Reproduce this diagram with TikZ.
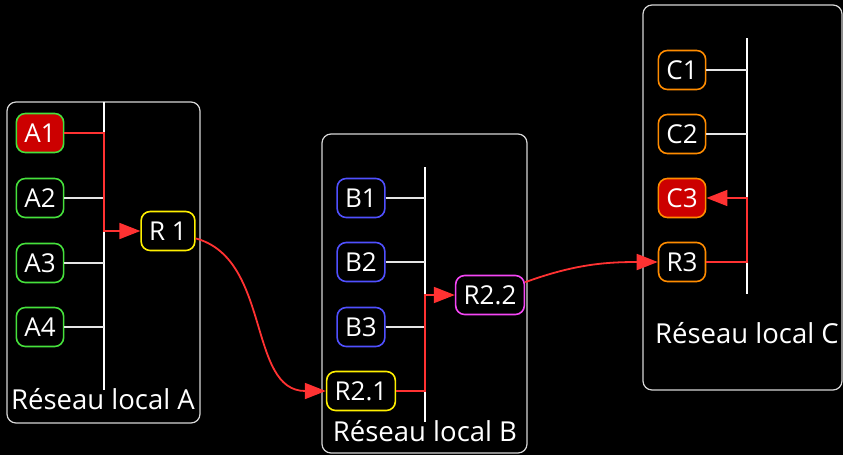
\documentclass[tikz,border=0pt]{standalone}
\usepackage{fontspec}
\setmainfont{Open Sans}
\usetikzlibrary{positioning}
\usetikzlibrary{arrows.meta}

\definecolor{hostgreen}{RGB}{70,225,60}
\definecolor{hostblue}{RGB}{80,80,255}
\definecolor{hostorange}{RGB}{255,140,0}
\definecolor{routeyellow}{RGB}{255,240,0}
\definecolor{routepink}{RGB}{245,70,245}
\definecolor{hitred}{RGB}{204,0,0}
\definecolor{pathred}{RGB}{255,50,50}
\definecolor{boxgrey}{RGB}{215,215,215}

\tikzset{
  machine/.style={draw,rounded corners=9pt,line width=1.6pt,text=white,
    inner xsep=8pt,minimum height=39pt,font=\fontsize{26}{26}\selectfont},
  netbox/.style={draw=boxgrey,line width=1.2pt,rounded corners=9pt},
  bus/.style={draw=white,line width=1.8pt},
  tap/.style={draw=white!90!black,line width=1.8pt},
  route/.style={draw=pathred,line width=1.8pt,-{Stealth[length=21pt,width=16pt,inset=0pt]}},
  netname/.style={text=white,font=\fontsize{27.5}{27.5}\selectfont}
}

\begin{document}
\begin{tikzpicture}[x=1pt,y=-1pt]
\fill[black] (0,0) rectangle (843,455);
\useasboundingbox (0,0) rectangle (843,455);

% reseau A
\draw[netbox] (7,102) rectangle (200,423);
\coordinate (busA) at (104,102);
\draw[bus] (busA) -- (104,390);
\node[machine,draw=hostgreen,fill=hitred] (A1) at (40,133) {A1};
\node[machine,draw=hostgreen] (A2) at (40,198) {A2};
\node[machine,draw=hostgreen] (A3) at (40,263) {A3};
\node[machine,draw=hostgreen] (A4) at (40,327) {A4};
\node[machine,draw=routeyellow] (R1) at (168,231) {R 1};
\foreach \h in {A2,A3,A4}
  \draw[tap] (\h.east) -- (\h.east -| busA);
\node[netname] (labA) at (103,399) {Réseau local A};

% reseau B
\draw[netbox] (322,134) rectangle (527,453);
\coordinate (busB) at (425,167);
\draw[bus] (busB) -- (425,422);
\node[machine,draw=hostblue] (B1) at (361,198) {B1};
\node[machine,draw=hostblue] (B2) at (361,262) {B2};
\node[machine,draw=hostblue] (B3) at (361,327) {B3};
\node[machine,draw=routeyellow] (R21) at (361,391) {R2.1};
\node[machine,draw=routepink] (R22) at (490,295) {R2.2};
\foreach \h in {B1,B2,B3}
  \draw[tap] (\h.east) -- (\h.east -| busB);
\node[netname] (labB) at (425,431) {Réseau local B};

% reseau C
\draw[netbox] (643,5) rectangle (842,390);
\coordinate (busC) at (747,38);
\draw[bus] (busC) -- (747,294);
\node[machine,draw=hostorange] (C1) at (682,70) {C1};
\node[machine,draw=hostorange] (C2) at (682,134) {C2};
\node[machine,draw=hostorange,fill=hitred] (C3) at (682,198) {C3};
\node[machine,draw=hostorange] (R3) at (682,262) {R3};
\foreach \h in {C1,C2}
  \draw[tap] (\h.east) -- (\h.east -| busC);
\node[netname] (labC) at (747,333) {Réseau local C};

% chemin du paquet
\draw[route] (A1.east) -- (A1.east -| busA) |- (R1.west);
\draw[route] (R1) to[out=-15,in=180] (R21.west);
\draw[route] (R21.east) -- (R21.east -| busB) |- (R22.west);
\draw[route] (R22) to[out=20,in=180] (R3.west);
\draw[route] (R3.east) -- (R3.east -| busC) |- (C3.east);
\end{tikzpicture}
\end{document}
